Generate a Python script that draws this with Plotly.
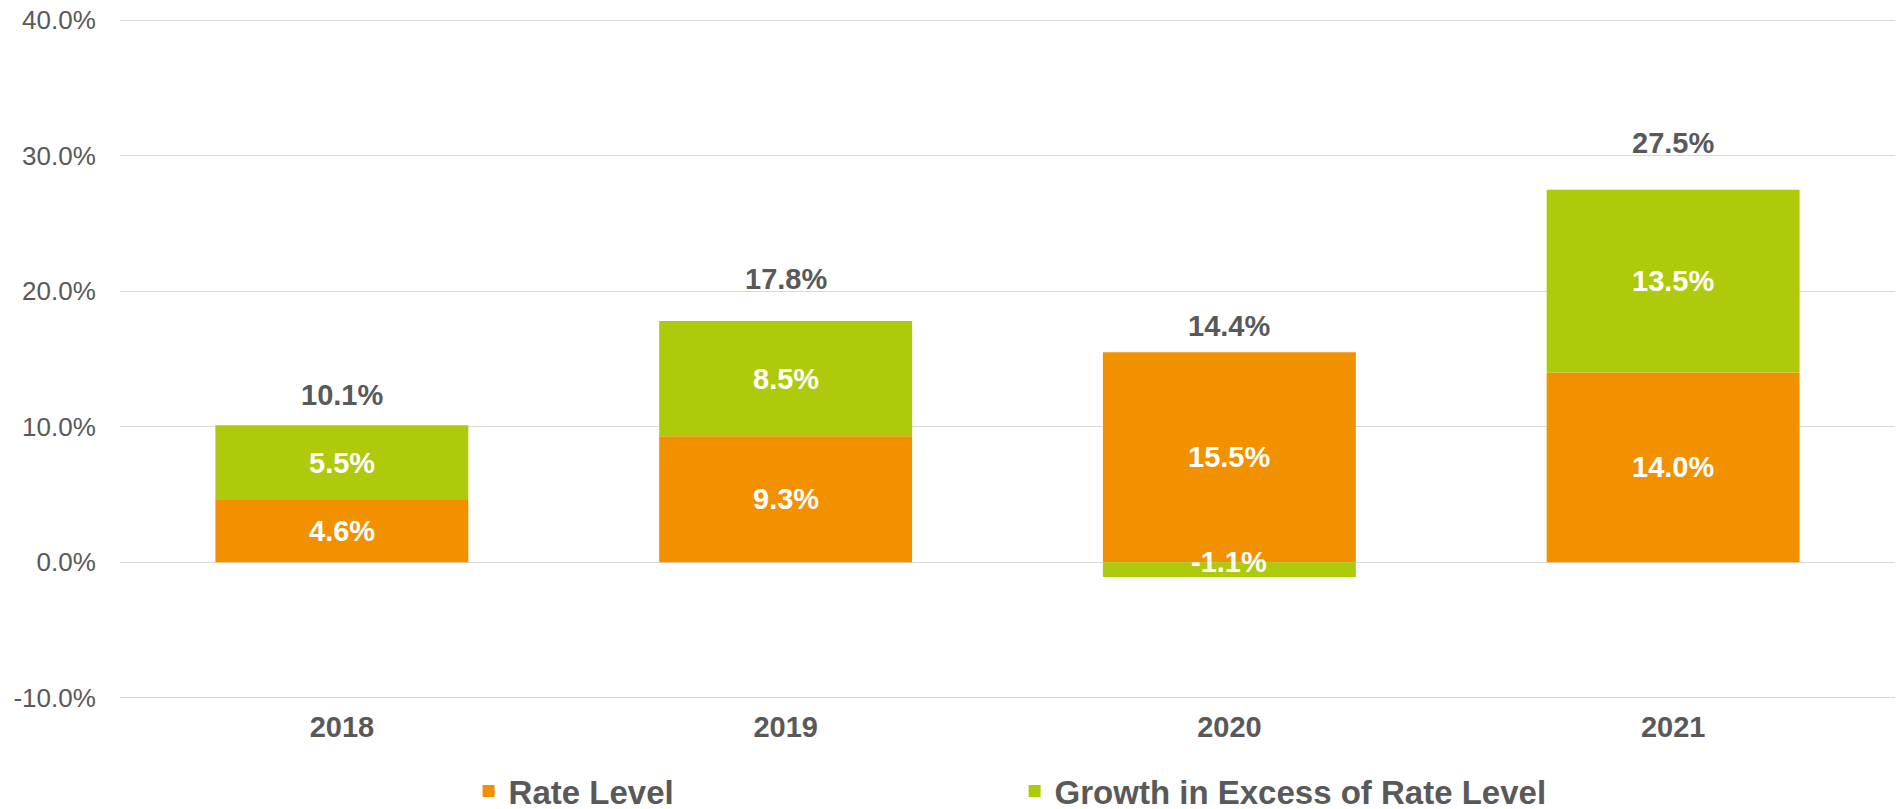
import plotly.graph_objects as go

years = ["2018", "2019", "2020", "2021"]
rate_level = [4.6, 9.3, 15.5, 14.0]
growth_excess = [5.5, 8.5, -1.1, 13.5]
totals = [10.1, 17.8, 14.4, 27.5]
y_ticks = [-10, 0, 10, 20, 30, 40]

ORANGE = "#F29100"
GREEN = "#AFCA0B"
GRAY = "#595959"
FONT = "Liberation Sans, Arial, sans-serif"

fig = go.Figure()
fig.add_trace(go.Bar(x=list(years), y=list(rate_level), name="Rate Level",
                     marker=dict(color=ORANGE, line=dict(width=0)), showlegend=True))
fig.add_trace(go.Bar(x=list(years), y=list(growth_excess), name="Growth in Excess of Rate Level",
                     marker=dict(color=GREEN, line=dict(width=0)), showlegend=True))

annotations = []
pos_base = [0.0] * len(years)
neg_base = [0.0] * len(years)
for series in (rate_level, growth_excess):
    for i, v in enumerate(series):
        if v >= 0:
            base = pos_base[i]
            pos_base[i] += v
        else:
            base = neg_base[i]
            neg_base[i] += v
        annotations.append(dict(x=i, y=base + v / 2, xref="x", yref="y", text=f"{v:.1f}%",
                                showarrow=False, yshift=(8 if v < 0 else 0),
                                font=dict(family=FONT, size=29, color="white", weight="bold")))

total_shift = [30, 42, 41, 47]
for i, t in enumerate(totals):
    annotations.append(dict(x=i, y=t, xref="x", yref="y", text=f"{t:.1f}%", showarrow=False,
                            yshift=total_shift[i],
                            font=dict(family=FONT, size=29, color=GRAY, weight="bold")))

W, H = 1896, 809
fig.update_layout(
    barmode="relative",
    bargap=0.43,
    width=W, height=H,
    margin=dict(l=120, r=1, t=19.2, b=109.6, autoexpand=False),
    paper_bgcolor="white", plot_bgcolor="white",
    font=dict(family=FONT, color=GRAY),
    annotations=annotations,
    legend=dict(orientation="h", x=0.504, xanchor="center",
                yref="container", y=1 - 791 / H, yanchor="middle",
                font=dict(family=FONT, size=33, color=GRAY, weight="bold"),
                entrywidth=501, entrywidthmode="pixels", itemclick=False),
    showlegend=True,
)
fig.update_xaxes(type="category", categoryorder="array", categoryarray=years,
                 range=[-0.5, 3.5], automargin=False,
                 showgrid=False, showline=False, zeroline=False,
                 ticks="outside", ticklen=2, tickcolor="rgba(0,0,0,0)",
                 tickfont=dict(family=FONT, size=29, color=GRAY, weight="bold"))
fig.update_yaxes(range=[-10.1, 40.1], tickvals=y_ticks, automargin=False,
                 ticktext=[f"{v:.1f}%" for v in y_ticks],
                 ticklabeloverflow="allow",
                 showgrid=True, gridcolor="#D9D9D9", gridwidth=1,
                 zeroline=True, zerolinecolor="#D9D9D9", zerolinewidth=1,
                 showline=False,
                 ticks="outside", ticklen=18, tickcolor="rgba(0,0,0,0)",
                 tickfont=dict(family=FONT, size=26, color=GRAY))

fig.write_html("out.html", config={"displayModeBar": False},
               post_script="document.body.style.margin='0';document.body.style.overflow='hidden';")
